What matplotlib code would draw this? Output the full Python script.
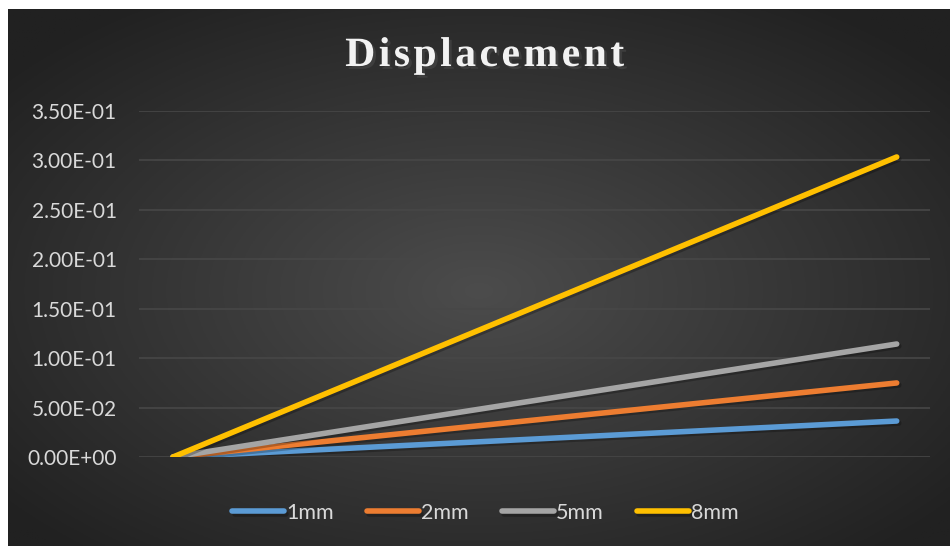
import numpy as np
import matplotlib.pyplot as plt
import matplotlib.patheffects as pe

# data
x = [0, 1]
series = ["1mm", "2mm", "5mm", "8mm"]
y_1mm = [0.0, 0.0364]
y_2mm = [0.0, 0.0749]
y_5mm = [0.0, 0.1143]
y_8mm = [0.0, 0.3035]
colors = ["#5b9bd5", "#ed7d31", "#a5a5a5", "#ffc000"]
yticks = [0, 0.05, 0.10, 0.15, 0.20, 0.25, 0.30, 0.35]

W, H = 950, 546
fig = plt.figure(figsize=(W / 100, H / 100), dpi=100)
fig.patch.set_facecolor("white")

# === background (dark radial gradient) ===
bg = fig.add_axes([8 / W, 0, 1 - 8 / W, 1 - 9 / H])
bg.set_axis_off()
gx, gy = np.meshgrid(np.linspace(-1, 1, 400), np.linspace(-1, 1, 240))
r = np.sqrt(gx ** 2 + (gy - 0.05) ** 2) / 1.3
r = np.clip(r, 0, 1)
c0, c1 = 0x4c / 255, 0x21 / 255
val = c0 + (c1 - c0) * r
bg.imshow(np.dstack([val, val, val]), aspect="auto", extent=[0, 1, 0, 1])
bg.set_xlim(0, 1)
bg.set_ylim(0, 1)

# === plot area ===
ax = fig.add_axes([139 / W, 1 - 457 / H, (930 - 139) / W, (457 - 111) / H])
ax.set_facecolor("none")
for s in ax.spines.values():
    s.set_visible(False)

for name, ys, c in zip(series, [y_1mm, y_2mm, y_5mm, y_8mm], colors):
    ax.plot(x, ys, color=c, lw=4.0, solid_capstyle="round", label=name,
            path_effects=[pe.SimpleLineShadow(offset=(1.5, -1.5), alpha=0.25),
                          pe.Normal()])

ax.set_xlim(-0.047, 1.046)
ax.set_ylim(0, 0.35)
ax.set_yticks(yticks)
ax.set_yticklabels([f"{v:.2E}" for v in yticks])
ax.set_xticks([])
ax.tick_params(axis="y", length=0, pad=16, labelsize=15, labelcolor="#d9d9d9")
for lab in ax.get_yticklabels():
    lab.set_fontfamily("Lato")
ax.grid(axis="y", color="#474747", lw=1.2)
ax.set_axisbelow(True)

# === title ===
fig.text(0.51, 1 - 56 / H, "\u200a".join("Displacement"),
         ha="center", va="center", fontsize=30, fontweight="bold",
         family=["Liberation Serif", "DejaVu Serif"], color="#f2f2f2",
         path_effects=[pe.withSimplePatchShadow(offset=(2, -2), alpha=0.6)])

# === legend ===
leg = fig.legend(loc="center", bbox_to_anchor=(0.511, 1 - 513 / H), ncol=4,
                 frameon=False, handlelength=2.4, handletextpad=0.1,
                 columnspacing=1.55, prop={"family": "Lato", "size": 15.5})
for t in leg.get_texts():
    t.set_color("#d9d9d9")

fig.savefig("out.png", dpi=100)
